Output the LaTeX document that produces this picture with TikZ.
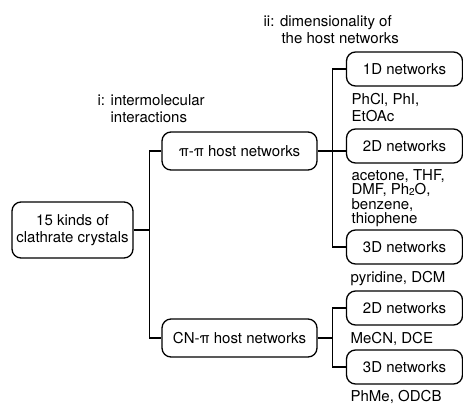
\documentclass[tikz,border=0pt]{standalone}
\usepackage{fontspec}
\setmainfont{TeX Gyre Heros}
\usetikzlibrary{positioning}

\begin{document}
\begin{tikzpicture}
	[x=1pt, y=1pt, on grid, line width=1.3pt,
	 every node/.style={font=\fontsize{15}{17.5}\selectfont},
	 box/.style={draw, rounded corners=9pt, align=center, inner sep=0pt},
	 bigbox/.style={box, minimum width=155pt, minimum height=38pt},
	 netbox/.style={box, minimum width=116pt, minimum height=34pt},
	 guest/.style={anchor=west, align=left, inner sep=0pt},
	 heading/.style={anchor=west, align=left, inner sep=0pt}]
   \useasboundingbox (0,0) rectangle (463,-405);
   % boxes
   \node[box, minimum width=121pt, minimum height=56pt] (n_0) at (72.5,-230) {15 kinds of\\clathrate crystals};
   \node[bigbox] (n_1) [above right=79pt and 167pt of n_0] {π-π host networks};
   \node[bigbox] (n_2) [below=187pt of n_1] {CN-π host networks};
   \node[netbox] (n_3) [above right=82pt and 165pt of n_1] {1D networks};
   \node[netbox] (n_4) [below=77pt of n_3] {2D networks};
   \node[netbox] (n_5) [below=101pt of n_4] {3D networks};
   \node[netbox] (n_6) [below=61pt of n_5] {2D networks};
   \node[netbox] (n_7) [below=59pt of n_6] {3D networks};
   % headings
   \node[heading] (h_1) at (97,-108.5) {i: intermolecular\\\hspace*{13pt}interactions};
   \node[heading] (h_2) at (263,-29.5) {ii: dimensionality of\\\hspace*{18pt}the host networks};
   % guests
   \node[guest] (g_1) at (351,-107.5) {PhCl, PhI,\\EtOAc};
   \node[guest, font=\fontsize{15}{14.5}\selectfont] (g_2) at (351,-198) {acetone, THF,\\DMF, Ph\raisebox{-1pt}{\fontsize{10}{10}\selectfont 2}O,\\benzene,\\thiophene};
   \node[guest] (g_3) at (350,-279) {pyridine, DCM};
   \node[guest] (g_4) at (350,-339) {MeCN, DCE};
   \node[guest] (g_5) at (350,-397) {PhMe, ODCB};
   % connectors
   \coordinate (j_1) at ([xshift=16pt]n_0.east);
   \coordinate (j_2) at ([xshift=15pt]n_1.east);
   \coordinate (j_3) at ([xshift=15pt]n_2.east);
   \draw (n_0.east) -- (j_1);
   \draw (n_1.west) -| (j_1) |- (n_2.west);
   \draw (n_1.east) -- (n_1.east -| n_4.west);
   \draw (n_3.west) -| (j_2) |- (n_5.west);
   \draw (n_2.east) -- (j_3);
   \draw (n_6.west) -| (j_3) |- (n_7.west);
\end{tikzpicture}
\end{document}
